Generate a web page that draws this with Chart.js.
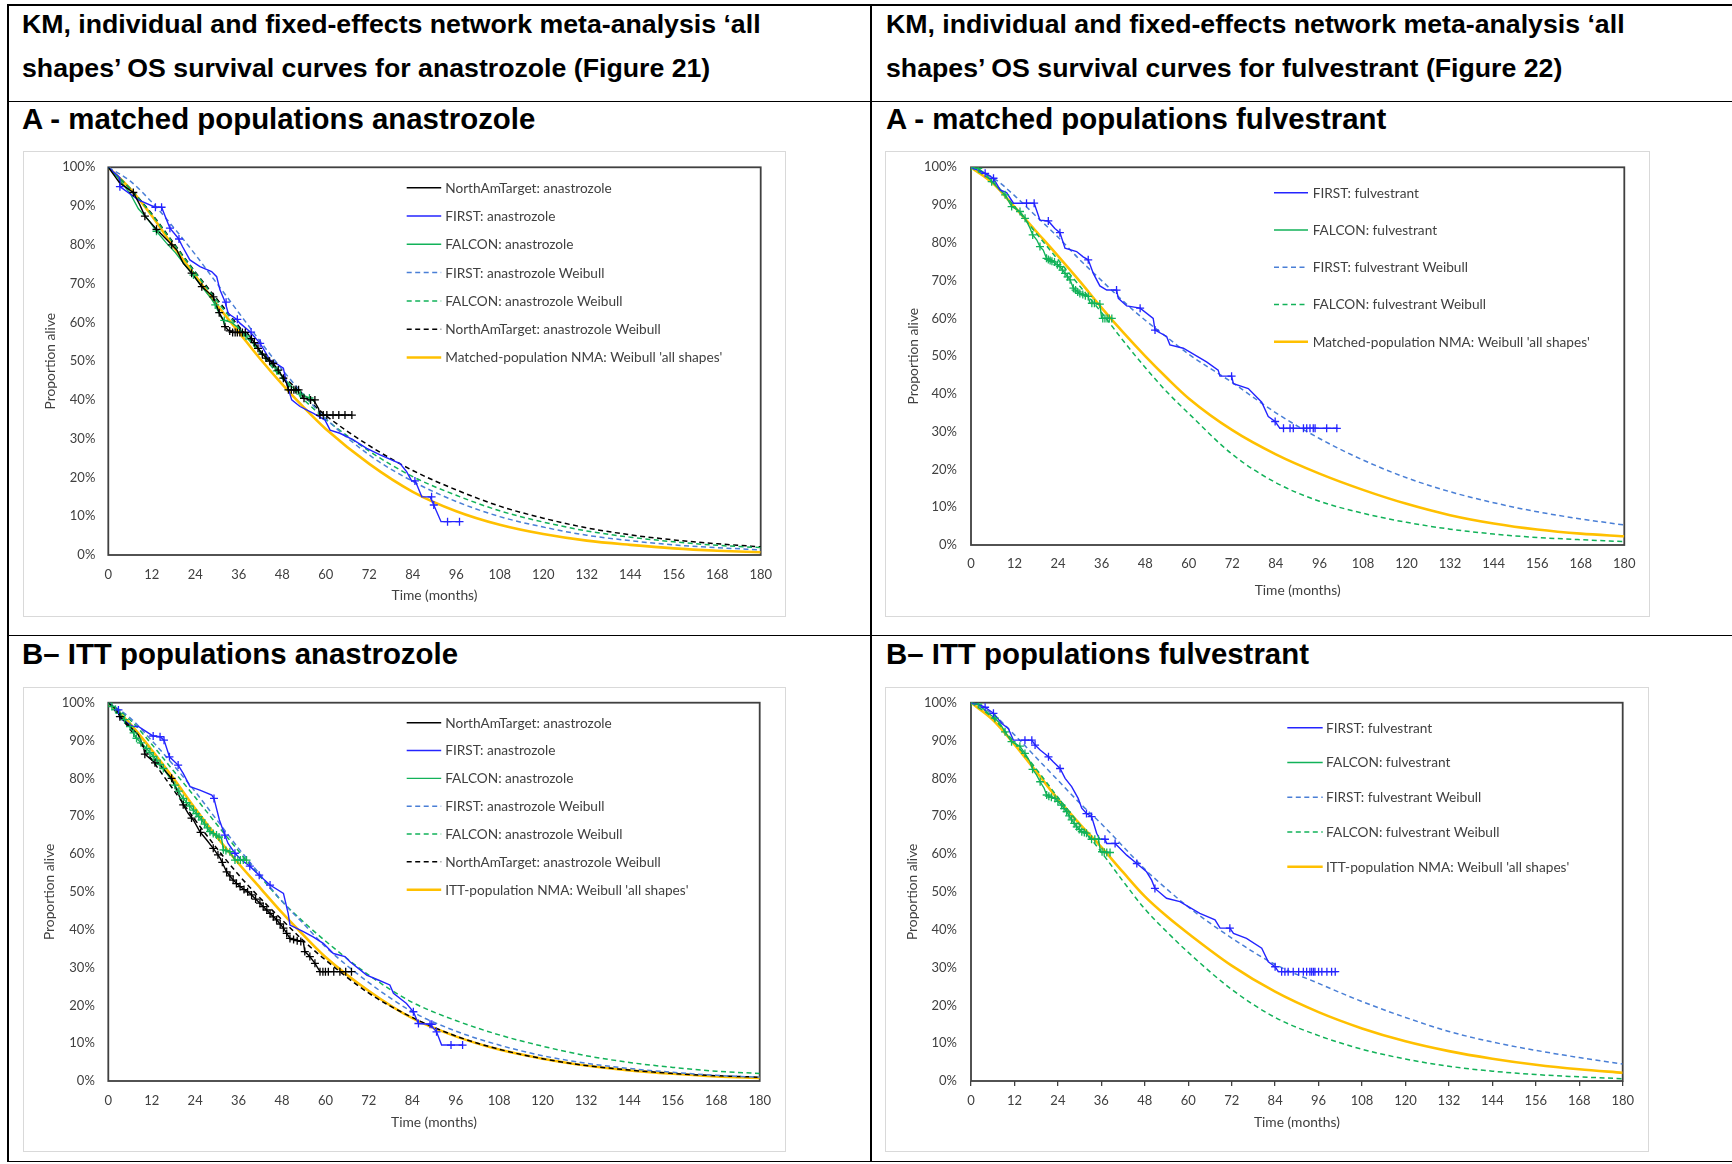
<!DOCTYPE html>
<html>
<head>
<meta charset="utf-8">
<title>KM and NMA overall survival curves</title>
<script src="https://cdn.jsdelivr.net/npm/chart.js@4.4.1/dist/chart.umd.min.js"></script>
<style>
  body { margin: 0; background: #fff; width: 1732px; height: 1164px; position: relative; overflow: hidden; font-family: "Liberation Sans", Arial, sans-serif; }
  .rule { position: absolute; background: #000; }
  .head { position: absolute; font-weight: bold; font-size: 26.7px; line-height: 1.2; white-space: nowrap; color: #000; }
  .sub { position: absolute; font-weight: bold; font-size: 29.4px; line-height: 1.2; white-space: nowrap; color: #000; }
  .frame { position: absolute; box-sizing: border-box; border: 1px solid #d9d9d9; }
  canvas { position: absolute; }
</style>
</head>
<body>

<!-- table rules -->
<div class="rule" style="left:7px; top:4px; width:1725px; height:1.5px"></div>
<div class="rule" style="left:7px; top:100.5px; width:1725px; height:1.7px"></div>
<div class="rule" style="left:7px; top:634.5px; width:1725px; height:1.7px"></div>
<div class="rule" style="left:7px; top:1160.5px; width:1725px; height:1.5px"></div>
<div class="rule" style="left:7px; top:4px; width:1.5px; height:1158px"></div>
<div class="rule" style="left:870px; top:4px; width:1.5px; height:1158px"></div>

<div class="head" style="left:22px; top:8px">KM, individual and fixed-effects network meta-analysis ‘all</div>
<div class="head" style="left:22px; top:52px">shapes’ OS survival curves for anastrozole (Figure 21)</div>
<div class="head" style="left:886px; top:8px">KM, individual and fixed-effects network meta-analysis ‘all</div>
<div class="head" style="left:886px; top:52px">shapes’ OS survival curves for fulvestrant (Figure 22)</div>

<div class="sub" style="left:22px; top:100.5px">A - matched populations anastrozole</div>
<div class="sub" style="left:886px; top:100.5px">A - matched populations fulvestrant</div>
<div class="sub" style="left:22px; top:635.5px">B– ITT populations anastrozole</div>
<div class="sub" style="left:886px; top:635.5px">B– ITT populations fulvestrant</div>

<div class="frame" id="f1"></div><canvas id="c1"></canvas>
<div class="frame" id="f2"></div><canvas id="c2"></canvas>
<div class="frame" id="f3"></div><canvas id="c3"></canvas>
<div class="frame" id="f4"></div><canvas id="c4"></canvas>

<script>
// months at which the fitted curves are tabulated
const months = [0, 6, 12, 18, 24, 30, 36, 42, 48, 54, 60, 72, 84, 96, 108, 120, 132, 144, 156, 168, 180];

// ---- A: matched populations, anastrozole ----
const maAnaNma     = [100, 94.5, 87.5, 79.5, 72, 64.5, 57.5, 50.5, 44, 38, 32.5, 23.5, 16.3, 11.3, 7.8, 5.4, 3.7, 2.6, 1.7, 1.1, 0.7];
const maAnaNamW    = [100, 94.5, 88, 80.5, 73, 66, 59, 52.5, 46.5, 41, 36, 28.2, 21.8, 16.8, 12.6, 9.5, 7.0, 5.2, 3.9, 2.9, 2.1];
const maAnaFalconW = [100, 94.5, 87.8, 80.3, 72.8, 65.5, 58.5, 52, 45.5, 40, 35, 26.8, 20.2, 15.4, 11.4, 8.5, 6.2, 4.6, 3.4, 2.5, 1.9];
const maAnaFirstW  = [100, 96.5, 91, 84.5, 77.5, 70, 62.5, 55, 47.8, 41.2, 35.2, 25.8, 19, 13.8, 9.9, 7.2, 5.1, 3.7, 2.6, 1.9, 1.3];

const maAnaNamT = [0, 3.2, 6.9, 8.7, 10.1, 13.3, 17.5, 18.9, 20.7, 23, 25.8, 29, 30.6, 31.7, 32.2, 33.1, 34.5, 38.2, 39.1, 40.5, 41.9, 43.7, 45.5, 46.9, 48.3, 49.2, 49.7, 52.9, 53.8, 56.6, 58, 58.4, 67.2];
const maAnaNamS = [100, 95.9, 93.5, 90.3, 87.4, 84, 80, 78.7, 75.2, 72.7, 69.2, 66.6, 62.5, 60.6, 58.9, 58, 57.4, 57.4, 56.3, 54.6, 52.5, 50.7, 49.4, 47.7, 45.6, 44.3, 42.6, 42.6, 40.4, 40, 37.8, 36.1, 36.1];
const maAnaNamCensT = [6.9, 10.1, 13.3, 17.5, 23, 25.8, 29, 30.6, 32.2, 33.5, 34.3, 35, 35.6, 36.3, 37, 37.8, 39.5, 40.3, 41.3, 42.5, 43.5, 44.5, 45.5, 46.9, 48.3, 49.7, 50.5, 51.2, 51.8, 52.5, 54, 55.8, 57, 58.4, 59.3, 60.3, 62, 63.6, 65.3, 67.2];
const maAnaNamCensS = [93.5, 87.4, 84, 80, 72.7, 69.2, 66.6, 62.5, 58.9, 57.8, 57.4, 57.4, 57.4, 57.4, 57.4, 57.4, 55.8, 54.8, 53.3, 51.8, 50.8, 50, 49.4, 47.7, 45.6, 42.6, 42.6, 42.6, 42.6, 42.6, 40.4, 40, 40, 36.1, 36.1, 36.1, 36.1, 36.1, 36.1, 36.1];

const maAnaFirstT = [0, 3, 3.2, 8.3, 12.9, 14.7, 16.1, 17, 19.3, 20.5, 22.5, 25.3, 28.5, 29.9, 30.8, 32.2, 33.1, 35.4, 36.3, 39.1, 41.9, 44.6, 45.5, 48.3, 49.2, 50.6, 52.9, 56.6, 59.8, 61.2, 63.9, 67.6, 71.3, 75, 80.5, 82.3, 83.7, 84.7, 86.5, 88.8, 89.8, 91.8, 96.9];
const maAnaFirstS = [100, 97.5, 95, 91.6, 89.7, 89.7, 86.4, 84.3, 81.7, 79.5, 76.1, 74.4, 73.1, 71.8, 68.4, 65.3, 62.3, 60.8, 59.8, 57.6, 54.6, 50.3, 49.9, 48.2, 44.3, 40, 38.3, 36.5, 34.8, 32.2, 31.4, 29.7, 27.5, 25.8, 23.6, 21.5, 19.1, 19.1, 15, 15, 12.9, 8.6, 8.6];
const maAnaFirstCensT = [3.2, 13, 14.7, 17, 19.5, 32.5, 35.6, 39.4, 41.9, 84.6, 89.2, 89.8, 93.6, 96.9];
const maAnaFirstCensS = [95, 89.7, 89.7, 84.3, 81.5, 65.2, 60.8, 57.5, 54.6, 19.1, 15, 12.9, 8.6, 8.6];

const maAnaFalconT = [0, 2.5, 6, 8.3, 11, 13.3, 16, 18.5, 21, 23.5, 26, 28.5, 29.5, 31, 32, 34, 36, 38, 40, 42, 44.5, 46.5, 48.5, 50.5, 53, 55.5, 57];
const maAnaFalconS = [100, 97.5, 93.3, 89.3, 86.5, 83.5, 80.5, 78, 75, 72.2, 69, 66, 64.5, 61.5, 60.5, 60, 58.5, 56.5, 54.5, 52.5, 50.3, 47.5, 45.5, 43.5, 41.5, 40.5, 39.5];
const maAnaFalconCensT = [13.3, 23.5, 29.5, 32, 38, 46.5, 53, 55.5];
const maAnaFalconCensS = [83.5, 72.2, 64.5, 60.5, 56.5, 47.5, 41.5, 40.5];

// ---- A: matched populations, fulvestrant ----
const maFulNma     = [100, 95.8, 89.5, 83, 76.5, 69.8, 62.8, 56.2, 50, 44.2, 38.8, 30.4, 24, 18.9, 14.6, 10.9, 7.9, 5.7, 4.1, 3.0, 2.3];
const maFulFirstW  = [100, 97.3, 92.5, 87, 81.5, 75.5, 70, 64.5, 59.5, 55, 50.5, 43, 35, 28.2, 22.5, 17.8, 14.1, 11.2, 8.8, 6.9, 5.3];
const maFulFalconW = [100, 96.2, 89.6, 82.5, 75.5, 68.5, 61.5, 54, 47, 40.5, 34.8, 24, 16.5, 11.6, 8.4, 6.0, 4.2, 2.9, 2.0, 1.4, 0.9];

const maFulFirstT = [0, 3.9, 6.2, 8, 9.8, 11.7, 17.4, 19, 21.3, 23.1, 24.5, 25.9, 29.1, 30.9, 32.3, 33.7, 35.5, 37.4, 40.1, 40.6, 42.9, 46.6, 50.2, 50.7, 53.9, 54.8, 58.5, 64.9, 68.1, 68.6, 71.8, 72.3, 76.4, 80.1, 81.9, 83.8, 85.1, 101];
const maFulFirstS = [100, 98.4, 97.1, 94, 93.3, 90.5, 90.5, 86, 85.8, 83.8, 82.7, 78.6, 77.7, 76.3, 75.5, 71.9, 68.6, 67.5, 67.5, 65.3, 63.3, 62.7, 60, 56.9, 55.2, 53, 52.1, 48.5, 46.3, 44.7, 44.7, 42.7, 41.4, 37.8, 34, 32.7, 30.9, 30.9];
const maFulFirstCensT = [3.9, 6.2, 15.3, 17.4, 21.3, 24.5, 32.3, 40.1, 46.6, 50.7, 71.8, 83.8, 86.1, 87.9, 88.8, 91.6, 92.5, 93.4, 94.3, 94.8, 98, 100.8];
const maFulFirstCensS = [98.4, 97.1, 90.5, 90.5, 85.8, 82.7, 75.5, 67.5, 62.7, 56.9, 44.7, 32.7, 30.9, 30.9, 30.9, 30.9, 30.9, 30.9, 30.9, 30.9, 30.9, 30.9];

const maFulFalconT = [0, 2, 4.3, 5.7, 8, 9.4, 11.2, 13.5, 14.9, 16.3, 17, 18.1, 19, 19.9, 20.8, 22.7, 24.5, 25.9, 27.3, 28.2, 30, 32.3, 32.8, 35.5, 36, 38.8];
const maFulFalconS = [100, 99.7, 98, 96.2, 94, 92.7, 89.6, 88.3, 86.5, 83.8, 82.1, 80.8, 79, 78.1, 75.9, 75, 73.7, 71.9, 70.2, 68, 66.6, 65.8, 64, 63.8, 60, 60];
const maFulFalconCensT = [0, 2, 5.7, 9.4, 11.2, 13.5, 14.9, 17, 19, 20.8, 21.3, 21.8, 22.3, 23, 23.8, 24.5, 25.2, 25.9, 26.6, 27.3, 28.2, 28.8, 29.4, 30, 30.8, 31.5, 32.3, 33.3, 34, 35.5, 36.3, 36.9, 37.5, 38.1, 38.8];
const maFulFalconCensS = [100, 99.7, 96.2, 92.7, 89.6, 88.3, 86.5, 82.1, 79, 75.9, 75.6, 75.3, 75.1, 74.9, 74.2, 73.7, 72.8, 71.9, 71, 70.2, 68, 67.5, 67, 66.6, 66.3, 66, 65.8, 64, 64, 63.8, 60, 60, 60, 60, 60];

// ---- B: ITT populations, anastrozole ----
const ittAnaNma     = [100, 94.5, 87.5, 80, 72, 64.5, 57.5, 51, 44.5, 38.5, 32.8, 23.8, 16.6, 11.8, 8.3, 5.9, 4.1, 2.8, 1.9, 1.2, 0.8];
const ittAnaNamW    = [100, 93, 85, 77, 69, 61.5, 54.5, 48.3, 42.6, 37, 32, 23.2, 16.8, 11.9, 8.4, 5.9, 4.1, 2.9, 2.0, 1.4, 1.0];
const ittAnaFalconW = [100, 95.5, 89, 82, 75, 67.8, 60.8, 54, 47.5, 42, 37, 28, 20.8, 16, 12.2, 9.2, 6.7, 4.9, 3.6, 2.6, 2.0];
const ittAnaFirstW  = [100, 96, 90, 83.5, 76.5, 69, 61.5, 54.5, 47.5, 41.5, 35.5, 26, 18.3, 13.2, 9.5, 6.7, 4.7, 3.3, 2.3, 1.5, 1.0];

const ittAnaNamT = [0, 2.3, 3.2, 6, 8.3, 9.7, 10.1, 12.9, 14.3, 17.5, 19.3, 20.7, 22.1, 23.5, 25.3, 27.2, 29, 30.9, 32.7, 34.5, 36.4, 39.1, 41.9, 44.7, 46.5, 48.4, 50.2, 53.9, 54.3, 55.7, 57.1, 58.5, 67.2];
const ittAnaNamS = [100, 98.1, 96.3, 93.7, 91.5, 88.4, 86.4, 84.1, 83.5, 80, 76, 73, 70.7, 69, 65.9, 63.7, 61.5, 58.9, 55.3, 53.1, 51.4, 49.6, 47, 44.3, 42.6, 40.4, 37.7, 36.8, 34.2, 32.9, 31.1, 28.9, 28.9];
const ittAnaNamCensT = [3.2, 10.1, 12.9, 17.5, 20.7, 23, 25.5, 29, 30.3, 31.5, 32.7, 33.6, 34.5, 35.4, 36.4, 37.5, 38.5, 39.6, 40.7, 41.9, 42.8, 43.8, 44.7, 45.6, 46.5, 47.5, 48.4, 49.3, 50.2, 51.2, 52.2, 53.2, 54.3, 55.7, 57.1, 58.5, 59.3, 60, 60.8, 62.3, 64, 65.6, 67.2];
const ittAnaNamCensS = [96.3, 86.4, 84.1, 80, 73, 69.5, 65.7, 61.5, 59.8, 57.8, 55.3, 54.2, 53.1, 52.2, 51.4, 50.6, 50, 49.2, 48.1, 47, 46.1, 45.2, 44.3, 43.4, 42.6, 41.5, 40.4, 39, 37.7, 37.4, 37.1, 36.9, 34.2, 32.9, 31.1, 28.9, 28.9, 28.9, 28.9, 28.9, 28.9, 28.9, 28.9];

const ittAnaFirstT = [0, 2.8, 3.2, 6.9, 8.3, 10.6, 12.4, 14.3, 15.4, 16.9, 19.3, 20.7, 22.6, 25.3, 28.6, 29.2, 30.7, 32.2, 33.1, 35, 36.8, 39.1, 41.7, 44.7, 48.4, 49.7, 50.2, 53.9, 56.6, 59.4, 62.2, 65.4, 66.8, 71.4, 74.6, 77.8, 78.8, 82.4, 84.3, 85.7, 88.9, 90.7, 92.1, 97.9];
const ittAnaFirstS = [100, 98.1, 95.9, 93.7, 93.7, 92.3, 91.2, 91, 90.1, 85.7, 83.5, 81.3, 77.8, 76.9, 75.6, 74.7, 69, 65, 62.8, 60.2, 58.4, 56.8, 54.4, 51.8, 49.6, 44.3, 41.2, 39.5, 38.1, 36.4, 33.7, 32.9, 31.5, 28, 26.7, 25.4, 23.2, 20.5, 18.3, 15.2, 15, 13, 9.5, 9.5];
const ittAnaFirstCensT = [2.8, 12.4, 14.3, 15.4, 16.9, 19.3, 29.2, 32.2, 35, 39.1, 41.7, 44.7, 84.3, 85.7, 88.9, 89.4, 90.7, 94.7, 97.9];
const ittAnaFirstCensS = [98.1, 91.2, 91, 90.1, 85.7, 83.5, 74.7, 65, 60.2, 56.8, 54.4, 51.8, 18.3, 15.2, 15, 15, 13, 9.5, 9.5];

const ittAnaFalconT = [0, 3.2, 6, 7.8, 10.6, 13.4, 15.2, 18.4, 20.7, 23.5, 25.8, 28.1, 29.9, 31.3, 31.8, 33.6, 35, 38.2];
const ittAnaFalconS = [100, 97.2, 93.7, 90.6, 87.9, 84.8, 82.6, 78.2, 74.7, 71.6, 69, 65.9, 65, 64.1, 61.1, 60.6, 58.4, 58.4];
const ittAnaFalconCensT = [0, 1, 2, 3.2, 4.5, 6, 7, 7.8, 9, 10.6, 11.5, 12.4, 13.4, 14.3, 15.2, 18.4, 19.5, 20.7, 21.6, 22.5, 23.5, 24.3, 25, 25.8, 26.6, 27.4, 28.1, 29, 29.9, 30.6, 31.8, 32.5, 33.6, 35, 35.8, 36.5, 37.3, 38.2];
const ittAnaFalconCensS = [100, 99, 98.2, 97.2, 95.5, 93.7, 92, 90.6, 89.4, 87.9, 86.8, 85.8, 84.8, 83.7, 82.6, 78.2, 76.6, 74.7, 73.6, 72.7, 71.6, 70.7, 69.9, 69, 67.9, 66.9, 65.9, 65.4, 65, 64.5, 61.1, 60.9, 60.6, 58.4, 58.4, 58.4, 58.4, 58.4];

// ---- B: ITT populations, fulvestrant ----
const ittFulNma     = [100, 95.5, 89, 81.8, 74.5, 68, 61.8, 55.2, 48.8, 43.6, 39, 30.5, 23.6, 18.2, 13.9, 10.5, 7.9, 5.9, 4.3, 3.1, 2.2];
const ittFulFirstW  = [100, 97, 91.5, 85.5, 79.5, 73.5, 68, 62, 56, 50.8, 46, 37.8, 30.8, 25.8, 21, 16.8, 13.1, 10.3, 8.1, 6.2, 4.5];
const ittFulFalconW = [100, 96, 89.5, 82.5, 75, 67.8, 60.5, 52.8, 45.5, 39.5, 34, 24.2, 16.8, 12, 8.4, 5.8, 3.9, 2.6, 1.7, 1.1, 0.6];

const ittFulFirstT = [0, 2.5, 3.9, 6.2, 8.5, 10.3, 11.7, 16.8, 17.7, 19.1, 21.4, 22.7, 24.6, 26, 27.8, 29.6, 30.6, 31.9, 33.3, 34.7, 35.6, 37, 37.5, 39.8, 43, 45.8, 48.5, 49.9, 50.8, 54, 57.7, 63.2, 67.4, 68.8, 71.5, 72.5, 76.1, 80.3, 82.1, 84, 84.9, 101.3];
const ittFulFirstS = [100, 99.4, 98.8, 97.2, 94.5, 93.2, 90.1, 90.1, 88.8, 87.5, 85.7, 84.4, 82.6, 80, 77.8, 74.7, 72.1, 70.7, 69.9, 65.5, 63.9, 63.9, 62.8, 62.8, 59.7, 57.5, 55.3, 53.1, 50.9, 48.3, 47.4, 44.3, 42.6, 40.4, 40.4, 39, 37.7, 35.1, 31.5, 30.2, 28.9, 28.9];
const ittFulFirstCensT = [3.9, 6.2, 14.9, 16.8, 17.7, 21.4, 24.6, 31.9, 33.3, 37, 39.8, 45.8, 50.8, 71.5, 84, 85.8, 86.7, 87.6, 89, 90.5, 91.8, 92.7, 93.6, 94.1, 94.6, 95, 96, 96.9, 98.3, 99.6, 100.6];
const ittFulFirstCensS = [98.8, 97.2, 90.1, 90.1, 88.8, 85.7, 82.6, 70.7, 69.9, 63.9, 62.8, 57.5, 50.9, 40.4, 30.2, 28.9, 28.9, 28.9, 28.9, 28.9, 28.9, 28.9, 28.9, 28.9, 28.9, 28.9, 28.9, 28.9, 28.9, 28.9, 28.9];

const ittFulFalconT = [0, 2, 4.3, 6.6, 8, 9.4, 11.2, 13.5, 14.9, 16.3, 17, 18.1, 19.1, 20.2, 20.9, 23.2, 25, 26.4, 27.8, 29.2, 30.6, 31.9, 32.9, 35.2, 35.8, 38.4];
const ittFulFalconS = [100, 99.6, 97.6, 95.9, 94.5, 92.3, 89.7, 88.5, 86.6, 84.4, 82.4, 80.9, 79.1, 77.4, 75.6, 74.7, 72.9, 71.2, 69, 67.2, 65.9, 65.5, 63.9, 63.9, 60.6, 60.4];
const ittFulFalconCensT = [0, 2, 6.6, 9.4, 11.2, 13.5, 14.9, 17, 19.1, 20.9, 21.5, 22.2, 23.2, 24, 25, 25.7, 26.4, 27.1, 27.8, 28.5, 29.2, 29.9, 30.6, 31.3, 31.9, 33.3, 34.2, 35.2, 36.2, 36.8, 37.5, 38.4];
const ittFulFalconCensS = [100, 99.6, 95.9, 92.3, 89.7, 88.5, 86.6, 82.4, 79.1, 75.6, 75.3, 75, 74.7, 73.9, 72.9, 72, 71.2, 70.1, 69, 68.1, 67.2, 66.5, 65.9, 65.7, 65.5, 63.9, 63.9, 63.9, 60.6, 60.5, 60.4, 60.4];

const BLACK = '#000000';
const BLUE = '#2424ff';
const GREEN = '#12b259';
const LIGHT_BLUE = '#4a7fd6';
const ORANGE = '#ffc000';
const DASH = [5, 3.5];
const LABEL_FONT = '13.65px Lato';

Chart.defaults.font.family = 'Lato';
Chart.defaults.font.size = 13;
Chart.defaults.color = '#404040';

const xy = (ts, ss) => ts.map((t, i) => ({ x: t, y: ss[i] }));

// Kaplan-Meier trace (straight segments between event points)
function km(label, ts, ss, color) {
  return { label, data: xy(ts, ss), showLine: true, borderColor: color, borderWidth: 1.4, pointRadius: 0 };
}
// fitted parametric curve
function fitted(label, ss, color, dash, width) {
  return {
    label, data: xy(months, ss), showLine: true, borderColor: color, borderWidth: width || 1.5,
    borderDash: dash || [], pointRadius: 0, cubicInterpolationMode: 'monotone'
  };
}
// censoring ticks, drawn on top of all curves
function censored(ts, ss, color) {
  return {
    label: '', censor: true, order: -1, data: xy(ts, ss), showLine: false,
    pointStyle: 'cross', pointRadius: 4, pointBorderWidth: 1.3,
    borderColor: color, pointBorderColor: color, backgroundColor: color
  };
}

// plot-area box and in-plot legend
const plotDecor = {
  id: 'plotDecor',
  beforeDatasetsDraw(chart) {
    const { ctx, chartArea: a } = chart;
    ctx.save();
    ctx.strokeStyle = '#404040';
    ctx.lineWidth = 1.8;
    ctx.strokeRect(a.left, a.top, a.right - a.left, a.bottom - a.top);
    ctx.restore();
  },
  afterDatasetsDraw(chart, args, opts) {
    const { ctx, chartArea: a } = chart;
    const items = chart.data.datasets.filter(d => !d.censor);
    ctx.save();
    ctx.font = LABEL_FONT;
    ctx.textBaseline = 'middle';
    items.forEach((d, i) => {
      const y = a.top + opts.dy + i * opts.gap;
      const x0 = a.left + opts.dx;
      ctx.strokeStyle = d.borderColor;
      ctx.lineWidth = d.borderWidth;
      ctx.setLineDash(d.borderDash || []);
      ctx.beginPath();
      ctx.moveTo(x0, y);
      ctx.lineTo(x0 + opts.len, y);
      ctx.stroke();
      ctx.setLineDash([]);
      ctx.fillStyle = '#404040';
      ctx.fillText(d.label, x0 + opts.len + opts.textGap, y + 0.5);
    });
    ctx.restore();
  }
};

function survivalChart(id, box, area, datasets, o) {
  const frame = document.getElementById('f' + id);
  const canvas = document.getElementById('c' + id);
  [frame, canvas].forEach(el => {
    el.style.left = box.x + 'px';
    el.style.top = box.y + 'px';
    el.style.width = box.w + 'px';
    el.style.height = box.h + 'px';
  });
  canvas.width = box.w;
  canvas.height = box.h;

  return new Chart(canvas, {
    type: 'scatter',
    data: { datasets },
    options: {
      responsive: false,
      animation: false,
      events: [],
      layout: { padding: { left: 0, top: area.t - box.y, right: box.x + box.w - area.r, bottom: 0 } },
      plugins: { legend: { display: false }, tooltip: { enabled: false }, plotDecor: o.legend },
      scales: {
        x: {
          type: 'linear', min: 0, max: 180,
          afterFit(s) { s.height = box.y + box.h - area.b; s.paddingLeft = 0; s.paddingRight = 0; },
          ticks: { stepSize: 12, padding: o.xPad, autoSkip: false, maxRotation: 0 },
          grid: { display: !!o.xTicks, drawOnChartArea: false, drawTicks: !!o.xTicks, tickLength: 5, color: '#404040', lineWidth: 1.3 },
          border: { display: false },
          title: { display: true, text: 'Time (months)', font: { size: 13.8 }, padding: { top: 0, bottom: o.xTitlePad } }
        },
        y: {
          min: 0, max: 100,
          afterFit(s) { s.width = area.l - box.x; s.paddingTop = 0; s.paddingBottom = 0; },
          ticks: { stepSize: 10, padding: o.yPad, callback: v => v + '%' },
          grid: { display: false, drawTicks: false },
          border: { display: false },
          title: { display: true, text: 'Proportion alive', font: { size: 13.8 }, padding: { top: o.yTitlePad, bottom: 0 } }
        }
      }
    },
    plugins: [plotDecor]
  });
}

// A - matched populations anastrozole
survivalChart(1,
  { x: 23, y: 151, w: 763, h: 466 },
  { l: 108.3, t: 167.3, r: 760.7, b: 555 },
  [
    km('NorthAmTarget: anastrozole', maAnaNamT, maAnaNamS, BLACK),
    km('FIRST: anastrozole', maAnaFirstT, maAnaFirstS, BLUE),
    km('FALCON: anastrozole', maAnaFalconT, maAnaFalconS, GREEN),
    fitted('FIRST: anastrozole Weibull', maAnaFirstW, LIGHT_BLUE, DASH),
    fitted('FALCON: anastrozole Weibull', maAnaFalconW, GREEN, DASH),
    fitted('NorthAmTarget: anastrozole Weibull', maAnaNamW, BLACK, DASH),
    fitted("Matched-population NMA: Weibull 'all shapes'", maAnaNma, ORANGE, null, 2.6),
    censored(maAnaNamCensT, maAnaNamCensS, BLACK),
    censored(maAnaFirstCensT, maAnaFirstCensS, BLUE),
    censored(maAnaFalconCensT, maAnaFalconCensS, GREEN)
  ],
  { xPad: 12.5, xTitlePad: 13.2, yPad: 13, yTitlePad: 19,
    legend: { dx: 298.4, dy: 20.4, gap: 28.3, len: 34.5, textGap: 4 } });

// A - matched populations fulvestrant
survivalChart(2,
  { x: 885, y: 151, w: 765, h: 466 },
  { l: 971, t: 167.3, r: 1624.3, b: 545 },
  [
    km('FIRST: fulvestrant', maFulFirstT, maFulFirstS, BLUE),
    km('FALCON: fulvestrant', maFulFalconT, maFulFalconS, GREEN),
    fitted('FIRST: fulvestrant Weibull', maFulFirstW, LIGHT_BLUE, DASH),
    fitted('FALCON: fulvestrant Weibull', maFulFalconW, GREEN, DASH),
    fitted("Matched-population NMA: Weibull 'all shapes'", maFulNma, ORANGE, null, 2.6),
    censored(maFulFirstCensT, maFulFirstCensS, BLUE),
    censored(maFulFalconCensT, maFulFalconCensS, GREEN)
  ],
  { xPad: 11.5, xTitlePad: 18.5, yPad: 14, yTitlePad: 19.9,
    legend: { dx: 303, dy: 25.4, gap: 37.25, len: 34, textGap: 4.7 } });

// B - ITT populations anastrozole
survivalChart(3,
  { x: 23, y: 687, w: 763, h: 465 },
  { l: 108.3, t: 702.7, r: 759.7, b: 1081 },
  [
    km('NorthAmTarget: anastrozole', ittAnaNamT, ittAnaNamS, BLACK),
    km('FIRST: anastrozole', ittAnaFirstT, ittAnaFirstS, BLUE),
    km('FALCON: anastrozole', ittAnaFalconT, ittAnaFalconS, GREEN),
    fitted('FIRST: anastrozole Weibull', ittAnaFirstW, LIGHT_BLUE, DASH),
    fitted('FALCON: anastrozole Weibull', ittAnaFalconW, GREEN, DASH),
    fitted('NorthAmTarget: anastrozole Weibull', ittAnaNamW, BLACK, DASH),
    fitted("ITT-population NMA: Weibull 'all shapes'", ittAnaNma, ORANGE, null, 2.6),
    censored(ittAnaNamCensT, ittAnaNamCensS, BLACK),
    censored(ittAnaFirstCensT, ittAnaFirstCensS, BLUE),
    censored(ittAnaFalconCensT, ittAnaFalconCensS, GREEN)
  ],
  { xPad: 12, xTitlePad: 20.9, yPad: 13.5, yTitlePad: 18.5,
    legend: { dx: 298.4, dy: 20, gap: 27.83, len: 34.5, textGap: 4 } });

// B - ITT populations fulvestrant
survivalChart(4,
  { x: 885, y: 687, w: 764, h: 465 },
  { l: 971, t: 702.7, r: 1622.7, b: 1081 },
  [
    km('FIRST: fulvestrant', ittFulFirstT, ittFulFirstS, BLUE),
    km('FALCON: fulvestrant', ittFulFalconT, ittFulFalconS, GREEN),
    fitted('FIRST: fulvestrant Weibull', ittFulFirstW, LIGHT_BLUE, DASH),
    fitted('FALCON: fulvestrant Weibull', ittFulFalconW, GREEN, DASH),
    fitted("ITT-population NMA: Weibull 'all shapes'", ittFulNma, ORANGE, null, 2.6),
    censored(ittFulFirstCensT, ittFulFirstCensS, BLUE),
    censored(ittFulFalconCensT, ittFulFalconCensS, GREEN)
  ],
  { xTicks: true, xPad: 7, xTitlePad: 20.9, yPad: 14, yTitlePad: 19.5,
    legend: { dx: 316.3, dy: 25, gap: 34.75, len: 35.4, textGap: 3.3 } });
</script>
</body>
</html>
